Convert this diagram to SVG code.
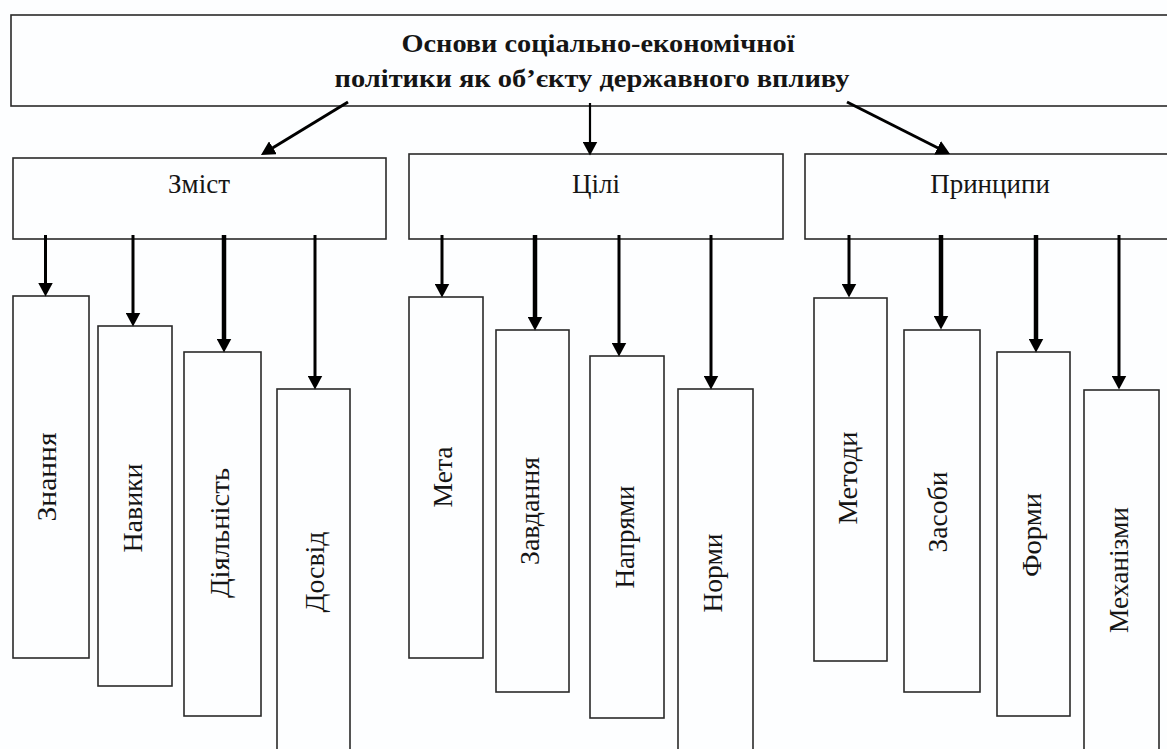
<svg xmlns="http://www.w3.org/2000/svg" width="1167" height="749" viewBox="0 0 1167 749">
<style>
.box{fill:#fdfeff;stroke:#2a2a2a;stroke-width:1.6}
.t{font-family:"Liberation Serif","Times New Roman",serif;fill:#151515}
.title{font-size:26px;font-weight:bold;text-anchor:middle}
.lab{font-size:27px;text-anchor:middle}
.vl{font-size:27px;text-anchor:middle;dominant-baseline:central}
.c{stroke:#000;fill:none;marker-end:url(#ah)}
.w2{stroke-width:2.2}
.w3{stroke-width:3}
.w4{stroke-width:4.5}
</style>
<defs>
<marker id="ah" markerUnits="userSpaceOnUse" viewBox="0 -7.5 14 15" markerWidth="14" markerHeight="15" refX="0.5" refY="0" orient="auto">
<path d="M0,-7.5 L14,0 L0,7.5 z" fill="#000"/>
</marker>
</defs>
<rect width="1167" height="749" fill="#fdfeff"/>
<g id="root"><rect class="box" x="11" y="15" width="1170" height="91"/>
<text class="t title" x="598" y="52" textLength="393" lengthAdjust="spacingAndGlyphs">Основи соціально-економічної</text>
<text class="t title" x="592" y="87" textLength="515" lengthAdjust="spacingAndGlyphs">політики як об’єкту державного впливу</text></g>
<g id="zmist"><rect class="box" x="13" y="158" width="373" height="81"/><text class="t lab" x="199" y="193">Зміст</text></g>
<g id="tsili"><rect class="box" x="409" y="154" width="374" height="85"/><text class="t lab" x="596" y="193">Цілі</text></g>
<g id="pryntsypy"><rect class="box" x="805" y="154" width="370" height="85"/><text class="t lab" x="990" y="193">Принципи</text></g>
<g id="znannia"><rect class="box" x="13" y="296" width="76" height="362"/><text class="t vl" x="47" y="477" transform="rotate(-90 47 477)" textLength="89" lengthAdjust="spacingAndGlyphs">Знання</text></g>
<g id="navyky"><rect class="box" x="98" y="326" width="74" height="360"/><text class="t vl" x="133" y="508" transform="rotate(-90 133 508)" textLength="89" lengthAdjust="spacingAndGlyphs">Навики</text></g>
<g id="diialnist"><rect class="box" x="184" y="352" width="77" height="364"/><text class="t vl" x="220" y="533" transform="rotate(-90 220 533)" textLength="130" lengthAdjust="spacingAndGlyphs">Діяльність</text></g>
<g id="dosvid"><rect class="box" x="277" y="389" width="73" height="380"/><text class="t vl" x="315" y="572" transform="rotate(-90 315 572)" textLength="81" lengthAdjust="spacingAndGlyphs">Досвід</text></g>
<g id="meta"><rect class="box" x="409" y="297" width="74" height="361"/><text class="t vl" x="443" y="477" transform="rotate(-90 443 477)" textLength="61" lengthAdjust="spacingAndGlyphs">Мета</text></g>
<g id="zavdannia"><rect class="box" x="496" y="330" width="73" height="362"/><text class="t vl" x="530" y="511" transform="rotate(-90 530 511)" textLength="108" lengthAdjust="spacingAndGlyphs">Завдання</text></g>
<g id="napriamy"><rect class="box" x="590" y="356" width="74" height="362"/><text class="t vl" x="625" y="537" transform="rotate(-90 625 537)" textLength="103" lengthAdjust="spacingAndGlyphs">Напрями</text></g>
<g id="normy"><rect class="box" x="678" y="389" width="75" height="380"/><text class="t vl" x="713" y="573" transform="rotate(-90 713 573)" textLength="79" lengthAdjust="spacingAndGlyphs">Норми</text></g>
<g id="metody"><rect class="box" x="814" y="298" width="73" height="363"/><text class="t vl" x="848" y="478" transform="rotate(-90 848 478)" textLength="93" lengthAdjust="spacingAndGlyphs">Методи</text></g>
<g id="zasoby"><rect class="box" x="904" y="330" width="76" height="362"/><text class="t vl" x="938" y="512" transform="rotate(-90 938 512)" textLength="81" lengthAdjust="spacingAndGlyphs">Засоби</text></g>
<g id="formy"><rect class="box" x="997" y="352" width="73" height="364"/><text class="t vl" x="1032" y="535" transform="rotate(-90 1032 535)" textLength="84" lengthAdjust="spacingAndGlyphs">Форми</text></g>
<g id="mekhanizmy"><rect class="box" x="1084" y="390" width="75" height="380"/><text class="t vl" x="1119" y="570" transform="rotate(-90 1119 570)" textLength="126" lengthAdjust="spacingAndGlyphs">Механізми</text></g>
<g id="connectors">
<line class="c w3" x1="348" y1="102" x2="272.5" y2="148"/>
<line class="c w2" x1="590" y1="103" x2="590" y2="142"/>
<line class="c w3" x1="847" y1="102" x2="938" y2="148"/>
<line class="c w3" x1="45.5" y1="235" x2="45.5" y2="283"/>
<line class="c w3" x1="133" y1="235" x2="133" y2="313"/>
<line class="c w4" x1="224" y1="235" x2="224" y2="339"/>
<line class="c w3" x1="315" y1="235" x2="315" y2="376"/>
<line class="c w3" x1="442" y1="235" x2="442" y2="284"/>
<line class="c w4" x1="535" y1="235" x2="535" y2="317"/>
<line class="c w3" x1="619" y1="235" x2="619" y2="343"/>
<line class="c w3" x1="711" y1="235" x2="711" y2="376"/>
<line class="c w3" x1="849" y1="235" x2="849" y2="284"/>
<line class="c w4" x1="941" y1="235" x2="941" y2="316"/>
<line class="c w4" x1="1036" y1="235" x2="1036" y2="339"/>
<line class="c w3" x1="1119" y1="235" x2="1119" y2="376"/>
</g>
</svg>
